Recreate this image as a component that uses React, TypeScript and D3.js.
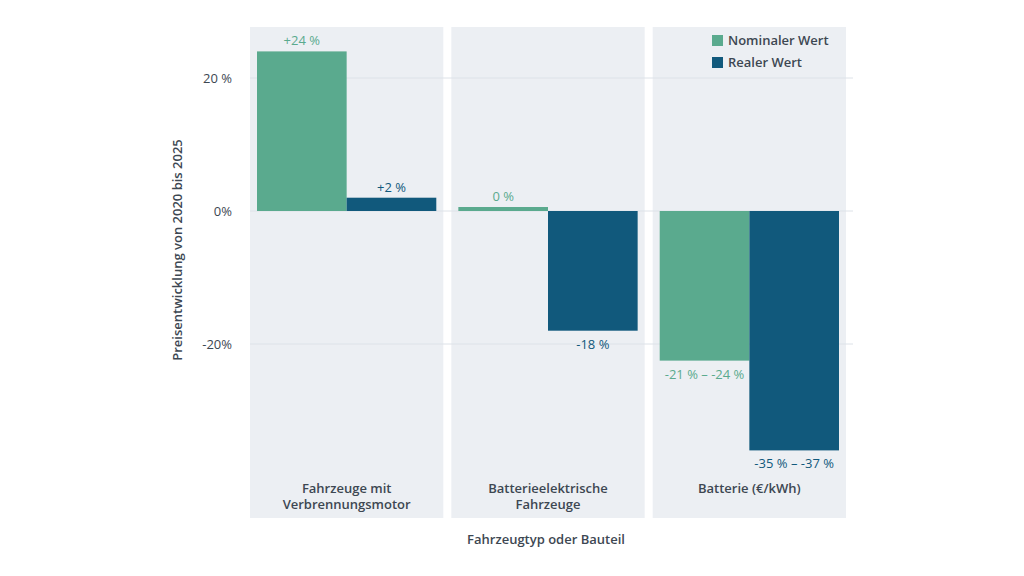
import React from "react";
import * as d3 from "d3";

const categories = [["Fahrzeuge mit", "Verbrennungsmotor"], ["Batterieelektrische", "Fahrzeuge"], ["Batterie (€/kWh)"]];
const nominal = [24, 0.6, -22.5];
const real = [2, -18, -36];
const nominalLabels = ["+24 %", "0 %", "-21 % – -24 %"];
const realLabels = ["+2 %", "-18 %", "-35 % – -37 %"];
const yTicks = [20, 0, -20];
const yTickLabels = ["20 %", "0%", "-20%"];
const seriesNames = ["Nominaler Wert", "Realer Wert"];

const GREEN = "#5aaa8e";
const BLUE = "#11597c";
const TEXT = "#3d4752";
const FONT = "'Open Sans', sans-serif";

export default function App() {
  const width = 1024, height = 576;
  const x = d3.scaleBand<number>().domain([0, 1, 2]).range([250, 846]).paddingInner(0.04);
  const y = d3.scaleLinear().domain([-20, 20]).range([344, 78]);
  const top = 27, bottom = 518, pad = 7;

  return (
    <svg width={width} height={height} style={{ position: "absolute", left: 0, top: 0, fontFamily: FONT }}>
      <rect width={width} height={height} fill="#fff" />
      {categories.map((_, i) => (
        <rect key={i} x={x(i)} y={top} width={x.bandwidth()} height={bottom - top} fill="#eceff3" />
      ))}
      {yTicks.map((t, i) => (
        <g key={t}>
          <line x1={250} x2={853} y1={y(t)} y2={y(t)} stroke="#dde2e8" strokeWidth={1} />
          <text x={232} y={y(t)} dy="0.35em" textAnchor="end" fontSize={13} fill={TEXT}>{yTickLabels[i]}</text>
        </g>
      ))}
      {categories.map((lines, i) => {
        const x0 = x(i)! + pad;
        const bw = (x.bandwidth() - 2 * pad) / 2;
        const cx = x(i)! + x.bandwidth() / 2;
        const bars = [
          { v: nominal[i], l: nominalLabels[i], c: GREEN, bx: x0 },
          { v: real[i], l: realLabels[i], c: BLUE, bx: x0 + bw },
        ];
        return (
          <g key={i}>
            {bars.map((b, j) => (
              <g key={j}>
                <rect x={b.bx} width={bw} y={Math.min(y(b.v), y(0))} height={Math.abs(y(b.v) - y(0))} fill={b.c} />
                <text x={b.bx + bw / 2} y={b.v >= 0 ? y(b.v) - 6 : y(b.v) + 18} textAnchor="middle" fontSize={13} fill={b.c}>{b.l}</text>
              </g>
            ))}
            {lines.map((s, k) => (
              <text key={k} x={cx} y={493 + k * 16} textAnchor="middle" fontSize={13} fontWeight={600} fill={TEXT}>{s}</text>
            ))}
          </g>
        );
      })}
      {seriesNames.map((n, i) => (
        <g key={n} transform={`translate(712,${35 + i * 22})`}>
          <rect width={11} height={11} fill={i === 0 ? GREEN : BLUE} />
          <text x={16} y={10} fontSize={13} fontWeight={600} fill={TEXT}>{n}</text>
        </g>
      ))}
      <text x={546} y={544} textAnchor="middle" fontSize={13} fontWeight={600} fill={TEXT}>Fahrzeugtyp oder Bauteil</text>
      <text transform="translate(182,250) rotate(-90)" textAnchor="middle" fontSize={13} fontWeight={600} fill={TEXT}>Preisentwicklung von 2020 bis 2025</text>
    </svg>
  );
}
